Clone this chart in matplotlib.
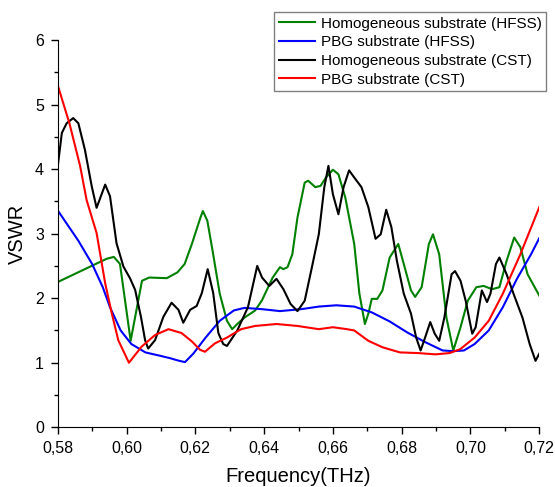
import matplotlib
matplotlib.use('Agg')
import matplotlib.pyplot as plt
from matplotlib.ticker import MultipleLocator, FuncFormatter

plt.rcParams['font.family'] = ['Liberation Sans', 'DejaVu Sans']

# Homogeneous substrate (HFSS)
hom_hfss_f = [0.580, 0.5942, 0.5963, 0.5981, 0.6012, 0.6045, 0.6066, 0.6117, 0.6148,
              0.6169, 0.619, 0.6215, 0.6222, 0.6235, 0.625, 0.6271, 0.6292, 0.6307,
              0.6322, 0.6343, 0.6374, 0.6394, 0.6425, 0.6446, 0.6456, 0.6468, 0.6482,
              0.6497, 0.6518, 0.6528, 0.6549, 0.6564, 0.658, 0.660, 0.6616, 0.6636,
              0.6662, 0.6677, 0.6693, 0.6703, 0.6713, 0.6729, 0.6744, 0.6765, 0.679,
              0.6806, 0.6827, 0.6839, 0.6858, 0.6879, 0.6891, 0.6909, 0.693, 0.695,
              0.6971, 0.6992, 0.7017, 0.7038, 0.7063, 0.7084, 0.7105, 0.7127, 0.7145,
              0.7166, 0.720]
hom_hfss_v = [2.25, 2.61, 2.64, 2.53, 1.34, 2.27, 2.32, 2.31, 2.40,
              2.53, 2.84, 3.25, 3.35, 3.20, 2.74, 2.07, 1.65, 1.52,
              1.60, 1.70, 1.81, 1.97, 2.32, 2.48, 2.45, 2.48, 2.68,
              3.25, 3.79, 3.82, 3.72, 3.74, 3.87, 3.99, 3.92, 3.56,
              2.84, 2.07, 1.60, 1.76, 1.99, 1.99, 2.12, 2.63, 2.84,
              2.53, 2.12, 2.02, 2.17, 2.84, 2.99, 2.68, 1.70, 1.19,
              1.55, 1.96, 2.17, 2.19, 2.14, 2.17, 2.58, 2.94, 2.79,
              2.37, 2.04]

# PBG substrate (HFSS)
pbg_hfss_f = [0.580, 0.586, 0.590, 0.5931, 0.5952, 0.5983, 0.6014, 0.6055, 0.6096,
              0.6127, 0.6153, 0.617, 0.6194, 0.623, 0.6271, 0.6312, 0.6343, 0.6394,
              0.6446, 0.6508, 0.6559, 0.661, 0.6662, 0.6713, 0.6765, 0.6816, 0.6868,
              0.6919, 0.695, 0.6981, 0.7012, 0.7053, 0.7094, 0.7135, 0.7176, 0.720]
pbg_hfss_v = [3.36, 2.89, 2.53, 2.17, 1.86, 1.50, 1.29, 1.16, 1.11,
              1.07, 1.03, 1.01, 1.14, 1.39, 1.65, 1.81, 1.85, 1.83,
              1.80, 1.83, 1.87, 1.89, 1.87, 1.78, 1.64, 1.47, 1.32,
              1.19, 1.18, 1.19, 1.29, 1.50, 1.86, 2.30, 2.68, 2.93]

# Homogeneous substrate (CST)
hom_cst_f = [0.580, 0.5812, 0.5826, 0.5845, 0.586, 0.5879, 0.5899, 0.5913, 0.5938,
             0.5952, 0.5971, 0.5991, 0.601, 0.6025, 0.6042, 0.6054, 0.6063, 0.6083,
             0.6107, 0.6131, 0.6151, 0.6165, 0.6185, 0.6204, 0.6219, 0.6236, 0.6252,
             0.6267, 0.6281, 0.6292, 0.6322, 0.6353, 0.638, 0.6394, 0.6415, 0.6436,
             0.6456, 0.6477, 0.6497, 0.6518, 0.6539, 0.6559, 0.6575, 0.6587, 0.660,
             0.6616, 0.6631, 0.6647, 0.6662, 0.6683, 0.6703, 0.6724, 0.6739, 0.6755,
             0.677, 0.6786, 0.6806, 0.6827, 0.6842, 0.6855, 0.6868, 0.6883, 0.6896,
             0.6909, 0.6924, 0.6945, 0.6955, 0.6971, 0.6986, 0.7005, 0.7015, 0.7033,
             0.7048, 0.7058, 0.7074, 0.7084, 0.7105, 0.7125, 0.7151, 0.7172, 0.7189,
             0.720]
hom_cst_v = [4.04, 4.56, 4.71, 4.79, 4.71, 4.30, 3.73, 3.40, 3.76,
             3.58, 2.85, 2.49, 2.31, 2.13, 1.71, 1.35, 1.22, 1.35,
             1.71, 1.93, 1.82, 1.62, 1.82, 1.88, 2.08, 2.45, 2.08,
             1.46, 1.29, 1.26, 1.50, 1.86, 2.50, 2.32, 2.19, 2.30,
             2.14, 1.91, 1.80, 1.96, 2.48, 2.99, 3.72, 4.05, 3.61,
             3.30, 3.72, 3.98, 3.87, 3.72, 3.41, 2.92, 2.99, 3.37,
             3.10, 2.58, 2.07, 1.76, 1.39, 1.19, 1.39, 1.63, 1.45,
             1.34, 1.70, 2.37, 2.42, 2.27, 1.96, 1.45, 1.55, 2.12,
             1.94, 2.07, 2.53, 2.63, 2.37, 2.07, 1.70, 1.29, 1.03,
             1.14]

# PBG substrate (CST)
pbg_cst_f = [0.580, 0.5834, 0.5865, 0.5884, 0.5913, 0.5938, 0.5957, 0.5976, 0.6007,
             0.6044, 0.6083, 0.6122, 0.616, 0.619, 0.6214, 0.6228, 0.6257, 0.6292,
             0.6333, 0.6374, 0.6436, 0.6497, 0.6559, 0.66, 0.6641, 0.6662, 0.6703,
             0.6744, 0.6795, 0.6847, 0.6898, 0.6939, 0.697, 0.7012, 0.7053, 0.7094,
             0.7145, 0.720]
pbg_cst_v = [5.30, 4.71, 4.05, 3.52, 3.01, 2.23, 1.77, 1.35, 1.00,
             1.25, 1.43, 1.52, 1.46, 1.33, 1.20, 1.17, 1.30, 1.39,
             1.52, 1.57, 1.60, 1.57, 1.52, 1.55, 1.52, 1.50, 1.34,
             1.24, 1.16, 1.15, 1.13, 1.15, 1.21, 1.39, 1.65, 2.07,
             2.68, 3.41]

fig = plt.figure(figsize=(5.55, 4.87), dpi=100)
ax = fig.add_axes([0.104, 0.1226, 0.8677, 0.7953])

ax.plot(hom_hfss_f, hom_hfss_v, color='#008000', lw=1.5, label='Homogeneous substrate (HFSS)')
ax.plot(pbg_hfss_f, pbg_hfss_v, color='#0000ff', lw=1.5, label='PBG substrate (HFSS)')
ax.plot(hom_cst_f, hom_cst_v, color='black', lw=1.5, label='Homogeneous substrate (CST)')
ax.plot(pbg_cst_f, pbg_cst_v, color='#ff0000', lw=1.5, label='PBG substrate (CST)')

ax.set_xlim(0.58, 0.72)
ax.set_ylim(0, 6)
ax.xaxis.set_major_locator(MultipleLocator(0.02))
ax.xaxis.set_minor_locator(MultipleLocator(0.01))
ax.yaxis.set_major_locator(MultipleLocator(1))
ax.yaxis.set_minor_locator(MultipleLocator(0.5))
ax.xaxis.set_major_formatter(FuncFormatter(lambda v, p: f'{v:.2f}'.replace('.', ',')))
ax.yaxis.set_major_formatter(FuncFormatter(lambda v, p: f'{v:.0f}'))
ax.tick_params(which='major', direction='out', length=5, width=1, labelsize=11.5, pad=5)
ax.tick_params(which='minor', direction='out', length=3, width=1)
ax.spines['top'].set_visible(False)
ax.spines['right'].set_visible(False)

ax.set_xlabel('Frequency(THz)', fontsize=14.5, labelpad=8)
ax.set_ylabel('VSWR', fontsize=14.5, labelpad=6)

leg = fig.legend(loc='upper right', bbox_to_anchor=(0.984, 0.975), fontsize=11,
                 frameon=True, fancybox=False, framealpha=1, edgecolor='#808080',
                 handlelength=2.4, handletextpad=0.35, labelspacing=0.3,
                 borderpad=0.3, borderaxespad=0)
leg.get_frame().set_linewidth(1)

fig.savefig('out.png', dpi=100)
